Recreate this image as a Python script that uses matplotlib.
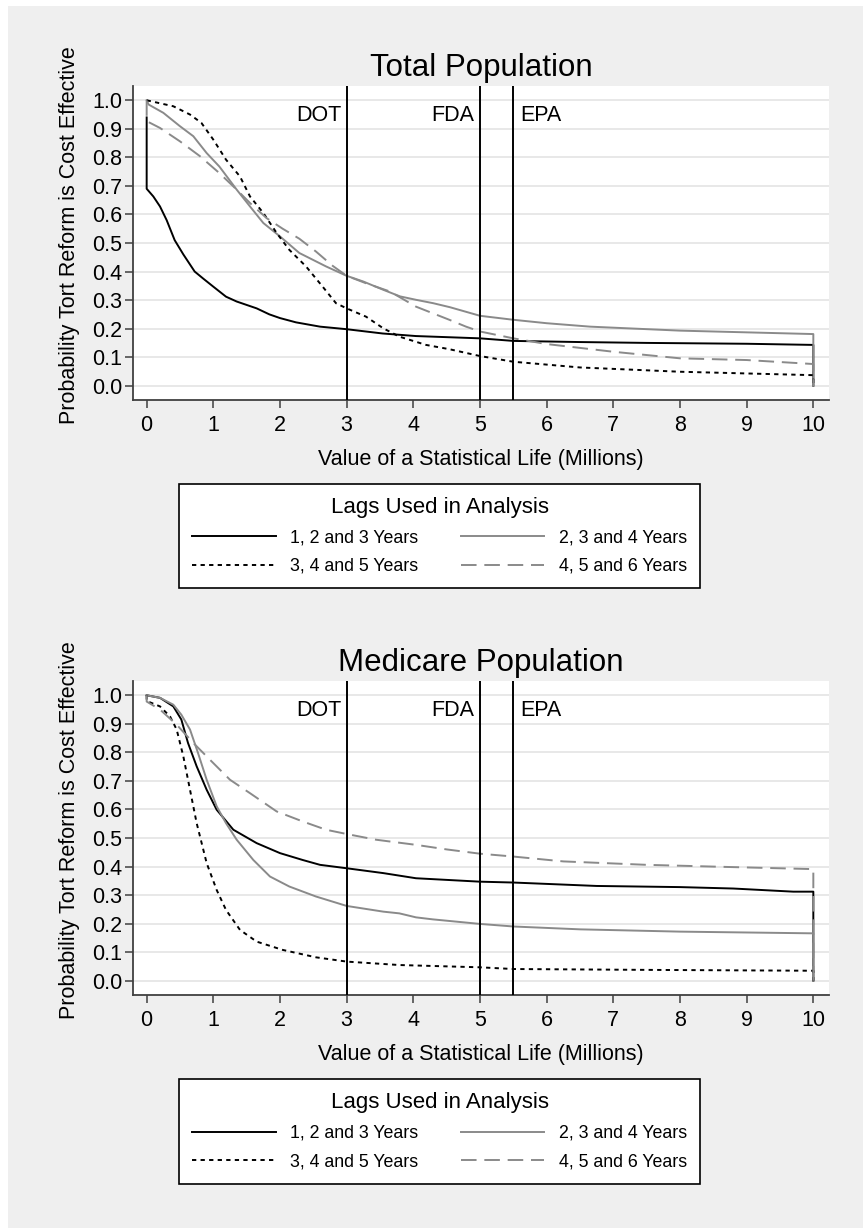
import matplotlib.pyplot as plt
from matplotlib.patches import Rectangle

plt.rcParams["font.family"] = ["Liberation Sans", "DejaVu Sans"]

# agency values of a statistical life (millions)
agency_vsl = [3.0, 5.0, 5.5]
agency_name = ["DOT", "FDA", "EPA"]

lag_labels = ["1, 2 and 3 Years", "2, 3 and 4 Years", "3, 4 and 5 Years", "4, 5 and 6 Years"]
legend_title = "Lags Used in Analysis"

# --- Total population ---
tot_x_123 = [0, 0, 0.1, 0.2, 0.3, 0.42, 0.55, 0.72, 0.85, 1.0, 1.19, 1.35, 1.65, 1.84, 2.0, 2.24, 2.6,
             3.0, 3.54, 4.04, 5.0, 5.5, 6.5, 7.5, 9.0, 10.0, 10.0]
tot_y_123 = [0.94, 0.69, 0.663, 0.628, 0.58, 0.51, 0.46, 0.40, 0.375, 0.347, 0.312, 0.295, 0.271, 0.25, 0.237,
             0.222, 0.207, 0.198, 0.183, 0.174, 0.166, 0.157, 0.153, 0.150, 0.147, 0.143, 0.0]

tot_x_234 = [0, 0.03, 0.25, 0.5, 0.7, 0.9, 1.09, 1.35, 1.55, 1.75, 2.0, 2.29, 2.69, 3.0, 3.25, 3.55, 3.8,
             4.04, 4.3, 4.55, 5.0, 5.5, 6.0, 6.65, 8.0, 10.0, 10.0]
tot_y_234 = [1.0, 0.985, 0.956, 0.909, 0.874, 0.815, 0.768, 0.687, 0.628, 0.570, 0.523, 0.465, 0.418, 0.385,
             0.365, 0.336, 0.313, 0.301, 0.289, 0.275, 0.245, 0.231, 0.219, 0.207, 0.193, 0.181, 0.0]

tot_x_345 = [0, 0.4, 0.65, 0.82, 1.0, 1.19, 1.4, 1.55, 1.75, 1.95, 2.14, 2.39, 2.64, 2.84, 3.0, 3.29, 3.55,
             3.79, 4.19, 4.54, 5.0, 5.5, 6.5, 8.0, 10.0, 10.0]
tot_y_345 = [1.0, 0.979, 0.950, 0.921, 0.862, 0.792, 0.733, 0.663, 0.605, 0.535, 0.476, 0.418, 0.347, 0.289,
             0.271, 0.242, 0.201, 0.172, 0.143, 0.128, 0.104, 0.084, 0.064, 0.049, 0.037, 0.0]

tot_x_456 = [0, 0, 0.2, 0.5, 0.8, 1.09, 1.35, 1.55, 1.8, 2.04, 2.29, 2.54, 2.79, 3.0, 3.29, 3.65, 4.04, 4.29,
             4.54, 4.79, 5.0, 5.5, 6.0, 7.0, 8.0, 9.0, 10.0, 10.0]
tot_y_456 = [1.0, 0.927, 0.903, 0.856, 0.804, 0.745, 0.687, 0.640, 0.587, 0.550, 0.515, 0.470, 0.420, 0.385,
             0.359, 0.33, 0.277, 0.254, 0.231, 0.207, 0.190, 0.166, 0.146, 0.119, 0.096, 0.090, 0.076, 0.0]

# --- Medicare population ---
med_x_123 = [0, 0.2, 0.4, 0.52, 0.62, 0.75, 0.9, 1.05, 1.3, 1.65, 2.0, 2.34, 2.6, 3.0, 3.55, 4.04, 5.0, 5.5,
             6.75, 8.0, 8.8, 9.7, 10.0, 10.0]
med_y_123 = [1.0, 0.991, 0.961, 0.915, 0.833, 0.751, 0.669, 0.599, 0.529, 0.482, 0.447, 0.423, 0.406, 0.394,
             0.377, 0.359, 0.347, 0.344, 0.332, 0.328, 0.323, 0.312, 0.312, 0.0]

med_x_234 = [0, 0.2, 0.4, 0.52, 0.65, 0.77, 0.9, 1.05, 1.19, 1.35, 1.6, 1.85, 2.14, 2.54, 3.0, 3.55, 3.79,
             4.04, 4.29, 5.0, 5.5, 6.5, 8.0, 10.0, 10.0]
med_y_234 = [1.0, 0.991, 0.967, 0.932, 0.88, 0.798, 0.704, 0.611, 0.552, 0.494, 0.423, 0.365, 0.33, 0.295,
             0.262, 0.242, 0.236, 0.222, 0.215, 0.199, 0.19, 0.18, 0.172, 0.166, 0.0]

med_x_345 = [0, 0, 0.2, 0.35, 0.45, 0.55, 0.65, 0.75, 0.9, 1.05, 1.19, 1.4, 1.65, 2.04, 2.54, 3.0, 3.79, 5.0,
             5.5, 7.5, 10.0, 10.0]
med_y_345 = [1.0, 0.98, 0.961, 0.926, 0.88, 0.786, 0.669, 0.552, 0.412, 0.318, 0.248, 0.178, 0.137, 0.108,
             0.082, 0.067, 0.055, 0.047, 0.041, 0.038, 0.035, 0.0]

med_x_456 = [0, 0, 0.2, 0.45, 0.7, 0.95, 1.25, 1.55, 1.95, 2.34, 2.69, 3.0, 3.44, 4.04, 4.5, 5.0, 5.5, 6.25,
             7.5, 8.8, 10.0, 10.0]
med_y_456 = [1.0, 0.978, 0.95, 0.897, 0.833, 0.774, 0.704, 0.657, 0.593, 0.558, 0.529, 0.514, 0.494, 0.476,
             0.46, 0.445, 0.435, 0.418, 0.406, 0.398, 0.391, 0.0]

GRAY = "#8a8a8a"
styles = [
    dict(color="black", ls="-"),
    dict(color=GRAY, ls="-"),
    dict(color="black", ls=(0, (2.2, 2.2))),
    dict(color=GRAY, ls=(0, (8, 4))),
]
LW = 1.4
FS = 15.5

W, H = 863, 1228
fig = plt.figure(figsize=(W / 100, H / 100), dpi=100)
fig.patch.set_facecolor("white")
fig.patches.append(Rectangle((8 / W, 0), 1 - 8 / W, 1 - 6 / H, transform=fig.transFigure,
                             facecolor="#efefef", edgecolor="none", zorder=-10))


def draw_panel(ax, title, xs, ys):
    ax.set_facecolor("white")
    ax.set_axisbelow(True)
    ax.grid(axis="y", color="#e6e6e6", lw=1.3)
    lines = []
    for x, y, st in zip(xs, ys, styles):
        (ln,) = ax.plot(x, y, lw=LW, **st)
        lines.append(ln)
    for v, name in zip(agency_vsl, agency_name):
        ax.axvline(v, color="black", lw=1.4, zorder=3)
        left = name != "EPA"
        ax.annotate(name, (v, 0.945), xytext=(-4 if left else 5, 0), textcoords="offset points",
                    ha="right" if left else "left", va="center", fontsize=FS)
    ax.set_xlim(-0.205, 10.235)
    ax.set_ylim(-0.05, 1.05)
    ax.set_xticks(range(0, 11))
    ax.set_yticks([i / 10 for i in range(11)])
    ax.set_yticklabels([f"{i / 10:.1f}" for i in range(11)])
    ax.tick_params(direction="out", length=6, width=1.1, color="#404040", labelsize=FS)
    ax.tick_params(axis="x", pad=5)
    ax.tick_params(axis="y", pad=2)
    for s in ["top", "right"]:
        ax.spines[s].set_visible(False)
    for s in ["left", "bottom"]:
        ax.spines[s].set_color("#404040")
        ax.spines[s].set_linewidth(1.3)
    ax.set_title(title, fontsize=22.5, pad=7.2)
    ax.set_xlabel("Value of a Statistical Life (Millions)", fontsize=FS, labelpad=9)
    ax.set_ylabel("Probability Tort Reform is Cost Effective", fontsize=FS)
    ax.yaxis.set_label_coords(-0.0755, 0.525)
    return lines


def add_legend(ax, lines, top_px):
    order = [0, 2, 1, 3]
    leg = ax.legend([lines[i] for i in order], [lag_labels[i] for i in order], ncol=2,
                    title=legend_title, title_fontsize=16, fontsize=12.8,
                    loc="upper center", bbox_to_anchor=(439.5 / W, 1 - top_px / H),
                    bbox_transform=fig.transFigure, borderaxespad=0, frameon=True, fancybox=False,
                    edgecolor="black", framealpha=1, borderpad=0.75, handlelength=4.7,
                    handletextpad=0.8, columnspacing=2.4, labelspacing=0.65)
    leg.get_frame().set_linewidth(1.2)


ax1 = fig.add_axes([133 / W, 1 - 400 / H, 696 / W, 314 / H])
l1 = draw_panel(ax1, "Total Population", [tot_x_123, tot_x_234, tot_x_345, tot_x_456],
                [tot_y_123, tot_y_234, tot_y_345, tot_y_456])
add_legend(ax1, l1, 483.5)

ax2 = fig.add_axes([133 / W, 1 - 995 / H, 696 / W, 314 / H])
l2 = draw_panel(ax2, "Medicare Population", [med_x_123, med_x_234, med_x_345, med_x_456],
                [med_y_123, med_y_234, med_y_345, med_y_456])
add_legend(ax2, l2, 1079)

fig.savefig("out.png", dpi=100, facecolor=fig.get_facecolor())
